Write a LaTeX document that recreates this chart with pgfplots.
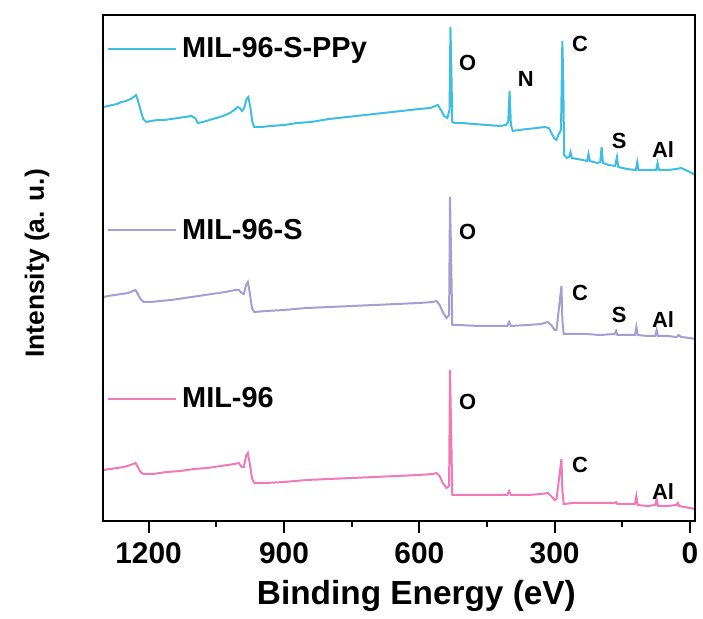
\documentclass[border=0pt]{standalone}
\usepackage{fontspec}
\setmainfont{Liberation Sans}
\usepackage{pgfplots}
\pgfplotsset{compat=1.18}

\definecolor{colppy}{RGB}{64,190,226}
\definecolor{colmils}{RGB}{164,158,210}
\definecolor{colmil}{RGB}{240,122,182}

\newcommand{\lab}[1]{\fontsize{#1}{#1}\selectfont\bfseries}

\begin{document}
\begin{tikzpicture}
\useasboundingbox (0,0) rectangle (703bp,619bp);
\begin{axis}[
  at={(103.5bp,98bp)}, anchor=south west,
  scale only axis, width=591.5bp, height=506bp,
  x dir=reverse, xmin=-11, xmax=1300,
  ymin=-1, ymax=505,
  clip=false,
  xtick={0,300,600,900,1200},
  minor xtick={150,450,750,1050},
  ytick=\empty,
  xtick pos=bottom, tick align=outside,
  major tick length=12bp, minor tick length=6bp,
  every tick/.style={black, line width=2bp},
  axis line style={black, line width=2bp},
  /pgf/number format/assume math mode=true,
  /pgf/number format/1000 sep={},
  xticklabel style={font=\lab{30}, yshift=-6bp},
  xlabel={Binding Energy (eV)},
  xlabel style={font=\lab{33.5}, at={(axis description cs:0.529,-0.166)}, anchor=base},
  ylabel={Intensity (a. u.)},
  ylabel style={font=\lab{26.5}, at={(axis description cs:-0.1124,0.509)}, anchor=center},
  every axis plot/.append style={line width=2bp, no marks},
]
% MIL-96-S-PPy
\addplot[colppy] coordinates {
(1300,413) (1290,414) (1280,415) (1270,416) (1260,418) (1250,419) (1240,421)
(1233,423) (1228,425) (1224,420) (1218,410) (1212,401) (1205,398) (1195,399)
(1180,400) (1165,400) (1150,401) (1135,402) (1120,403) (1105,404) (1097,402)
(1091,397) (1080,398) (1065,400) (1050,402) (1035,404) (1020,407) (1010,410)
(1003,413) (998,412) (993,409) (988,412) (983,421) (979,423) (975,414) (970,398)
(966,393) (950,393) (930,394) (900,395) (870,397) (840,398) (800,401) (760,403)
(720,405) (680,407) (640,409) (600,411) (575,412) (565,414) (559,415) (552,410)
(545,404) (538,402) (533,410) (531,493) (529,450) (527,398) (522,397) (505,397)
(480,396) (450,395) (420,394) (408,395) (403,398) (400,429) (397,395) (393,389)
(380,390) (360,391) (340,392) (322,393) (313,392) (306,386) (300,381) (296,380)
(292,385) (286,390) (283,479) (281,440) (279,365) (273,362) (268,363) (265,368)
(262,362) (250,361) (238,360) (228,359) (225,366) (222,359) (205,357) (199,358)
(196,373) (193,357) (180,355) (166,354) (162,363) (159,353) (140,351) (120,350)
(117,358) (114,350) (95,350) (75,350) (72,357) (69,350) (50,350) (30,351)
(20,352) (10,350) (0,348) (-11,345)
};
% MIL-96-S
\addplot[colmils] coordinates {
(1300,223) (1290,224) (1275,225) (1260,226) (1245,227) (1235,229) (1229,230)
(1224,226) (1218,221) (1211,218) (1195,218) (1175,219) (1150,220) (1120,222)
(1090,224) (1060,226) (1030,228) (1008,230) (1000,230) (994,227) (989,226)
(984,235) (980,238) (976,228) (971,212) (966,208) (940,209) (900,210) (850,212)
(800,213) (750,214) (700,215) (650,216) (600,217) (570,218) (562,219) (555,215)
(548,208) (540,202) (534,205) (532,323) (529,250) (527,195) (510,195) (470,194)
(430,194) (405,194) (401,198) (397,194) (360,195) (330,196) (315,198) (306,194)
(300,190) (296,190) (285,234) (283,200) (280,186) (260,186) (230,186) (200,185)
(167,186) (164,189) (161,185) (140,185) (122,185) (119,193) (116,185) (95,184)
(77,184) (74,190) (71,184) (50,184) (30,183) (25,185) (20,183) (0,182) (-11,181)
};
% MIL-96
\addplot[colmil] coordinates {
(1300,50) (1285,51) (1270,52) (1255,53) (1240,55) (1229,57) (1224,53) (1218,48)
(1211,46) (1190,46) (1160,48) (1130,49) (1100,51) (1070,52) (1040,54) (1010,56)
(1000,57) (994,53) (989,53) (984,64) (980,67) (976,57) (971,42) (966,37) (940,37)
(900,38) (850,40) (800,41) (750,42) (700,43) (650,44) (600,45) (570,46) (562,47)
(555,44) (548,37) (540,32) (534,34) (532,150) (529,80) (527,25) (510,25) (470,25)
(430,25) (405,25) (401,29) (397,25) (360,25) (330,26) (315,27) (306,23) (300,20)
(296,21) (285,61) (283,30) (280,16) (260,17) (230,17) (200,17) (167,17) (164,18)
(161,16) (140,16) (122,16) (119,24) (116,15) (95,14) (77,15) (74,21) (71,14)
(50,14) (30,15) (27,17) (24,14) (0,12) (-11,11)
};

% frame
\draw[black, line width=2bp] (rel axis cs:0,0) rectangle (rel axis cs:1,1);

% legend samples
\draw[colppy, line width=2bp] (axis cs:1290,471) -- (axis cs:1140,471);
\node[anchor=base west, font=\lab{29}, inner sep=0pt] at (axis cs:1126,462) {MIL-96-S-PPy};
\draw[colmils, line width=2bp] (axis cs:1290,290) -- (axis cs:1140,290);
\node[anchor=base west, font=\lab{29}, inner sep=0pt] at (axis cs:1126,280) {MIL-96-S};
\draw[colmil, line width=2bp] (axis cs:1290,121) -- (axis cs:1140,121);
\node[anchor=base west, font=\lab{29}, inner sep=0pt] at (axis cs:1126,112) {MIL-96};

% peak labels
\begin{scope}[every node/.style={font=\lab{22}, inner sep=0pt}]
\node at (axis cs:493,457) {O};
\node at (axis cs:364,441) {N};
\node at (axis cs:244,476) {C};
\node at (axis cs:157,379) {S};
\node at (axis cs:60,370) {Al};
\node at (axis cs:493,288) {O};
\node at (axis cs:244,227) {C};
\node at (axis cs:157,205) {S};
\node at (axis cs:60,200) {Al};
\node at (axis cs:493,118) {O};
\node at (axis cs:244,55) {C};
\node at (axis cs:60,28) {Al};
\end{scope}
\end{axis}
\end{tikzpicture}
\end{document}
